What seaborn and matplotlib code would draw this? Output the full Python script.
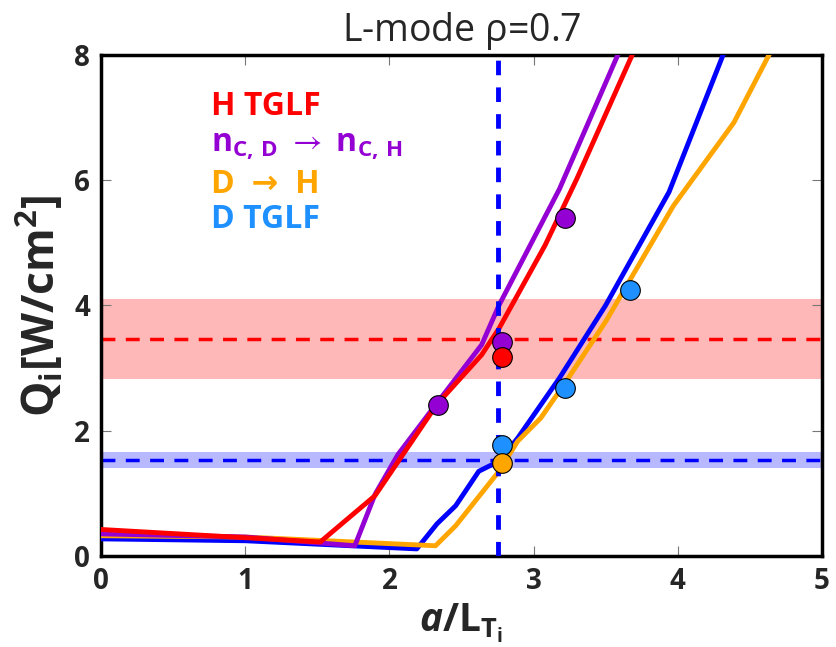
import numpy as np
import pandas as pd
import matplotlib
matplotlib.use("Agg")
import matplotlib.pyplot as plt
import seaborn as sns

# Ion heat flux scans versus normalized ion temperature gradient
h_tglf_x = [0.0, 1.52, 1.90, 2.33, 2.64, 2.76, 3.08, 3.30, 3.69]
h_tglf_y = [0.42, 0.22, 0.96, 2.42, 3.21, 3.63, 4.96, 6.02, 8.03]

carbon_x = [0.0, 1.0, 1.76, 1.90, 2.06, 2.33, 2.64, 2.76, 3.18, 3.59]
carbon_y = [0.35, 0.30, 0.16, 0.98, 1.62, 2.44, 3.37, 4.00, 5.86, 8.03]

d_tglf_x = [0.0, 1.0, 2.19, 2.33, 2.46, 2.62, 2.76, 2.89, 3.18, 3.50, 3.94, 4.32]
d_tglf_y = [0.27, 0.24, 0.11, 0.51, 0.80, 1.35, 1.51, 1.88, 2.84, 4.00, 5.81, 8.03]

d_to_h_x = [0.0, 1.0, 2.32, 2.46, 2.76, 2.89, 3.05, 3.21, 3.50, 3.97, 4.39, 4.64]
d_to_h_y = [0.32, 0.30, 0.16, 0.48, 1.35, 1.83, 2.20, 2.73, 3.74, 5.59, 6.92, 8.03]

# Individual simulation points
pts_x = [2.34, 2.78, 3.22, 2.78, 2.78, 2.78, 3.22, 3.67]
pts_y = [2.41, 3.42, 5.40, 3.18, 1.77, 1.49, 2.68, 4.25]
pts_c = ["darkviolet", "darkviolet", "darkviolet", "red",
         "dodgerblue", "orange", "dodgerblue", "dodgerblue"]

# Experimental fluxes with uncertainty bands
exp_h = 3.47
exp_h_band = (2.83, 4.10)
exp_d = 1.53
exp_d_band = (1.41, 1.65)
exp_grad = 2.755

sns.set_theme(style="white")
plt.rcParams["font.family"] = ["Open Sans", "DejaVu Sans"]
plt.rcParams["mathtext.fontset"] = "custom"
plt.rcParams["mathtext.rm"] = "Open Sans"
plt.rcParams["mathtext.bf"] = "Open Sans:bold"
plt.rcParams["mathtext.it"] = "Open Sans:italic:bold"
plt.rcParams["mathtext.fallback"] = "stixsans"

fig = plt.figure(figsize=(8.36, 6.47), dpi=100)
ax = fig.add_axes([0.121, 0.141, 0.862, 0.774])

ax.axhspan(*exp_h_band, color="red", alpha=0.28, lw=0, zorder=0)
ax.axhspan(*exp_d_band, color="blue", alpha=0.28, lw=0, zorder=0)

curves = [
    (d_tglf_x, d_tglf_y, "blue"),
    (d_to_h_x, d_to_h_y, "orange"),
    (carbon_x, carbon_y, "darkviolet"),
    (h_tglf_x, h_tglf_y, "red"),
]
for xs, ys, col in curves:
    sns.lineplot(x=xs, y=ys, sort=False, color=col, lw=3.5, ax=ax, zorder=3)

ax.axhline(exp_h, color="red", ls="--", lw=2.5, dashes=(4, 3), zorder=2)
ax.axhline(exp_d, color="blue", ls="--", lw=2.5, dashes=(4, 3), zorder=2)
ax.axvline(exp_grad, color="blue", ls="--", lw=3.5, dashes=(3, 2.5), zorder=4)

pts = pd.DataFrame({"x": pts_x, "y": pts_y, "c": pts_c})
for c, g in pts.groupby("c", sort=False):
    sns.scatterplot(data=g, x="x", y="y", color=c, s=200, edgecolor="black",
                    linewidth=0.8, ax=ax, zorder=5)

ax.set_xlim(0, 5)
ax.set_ylim(0, 8)
ax.set_xticks(range(0, 6))
ax.set_yticks([0, 2, 4, 6, 8])
ax.tick_params(direction="in", bottom=True, left=True, top=True, right=True,
               length=7, width=0.8, color="#777777", labelsize=20, pad=8)
for lab in ax.get_xticklabels() + ax.get_yticklabels():
    lab.set_fontweight("bold")
for sp in ax.spines.values():
    sp.set_linewidth(2.5)
    sp.set_color("black")

ax.set_title(r"L-mode $\mathregular{\rho}$=0.7", fontsize=27, pad=10)
ax.set_xlabel(r"$\mathit{a}\mathbf{/L_{T_i}}$", fontsize=28, labelpad=4)
ax.set_ylabel(r"$\mathbf{Q_i[W/cm^2]}$", fontsize=32, labelpad=6)

leg_kw = dict(fontsize=23, fontweight="bold", transform=ax.transData)
ax.text(0.76, 7.04, "H TGLF", color="red", **leg_kw)
ax.text(0.76, 6.45, r"n$_\mathbf{C,\,D}$ $\rightarrow$ n$_\mathbf{C,\,H}$",
        color="darkviolet", **leg_kw)
ax.text(0.76, 5.80, "D  →  H", color="orange", **leg_kw)
ax.text(0.76, 5.24, "D TGLF", color="dodgerblue", **leg_kw)

fig.savefig("out.png", dpi=100)
